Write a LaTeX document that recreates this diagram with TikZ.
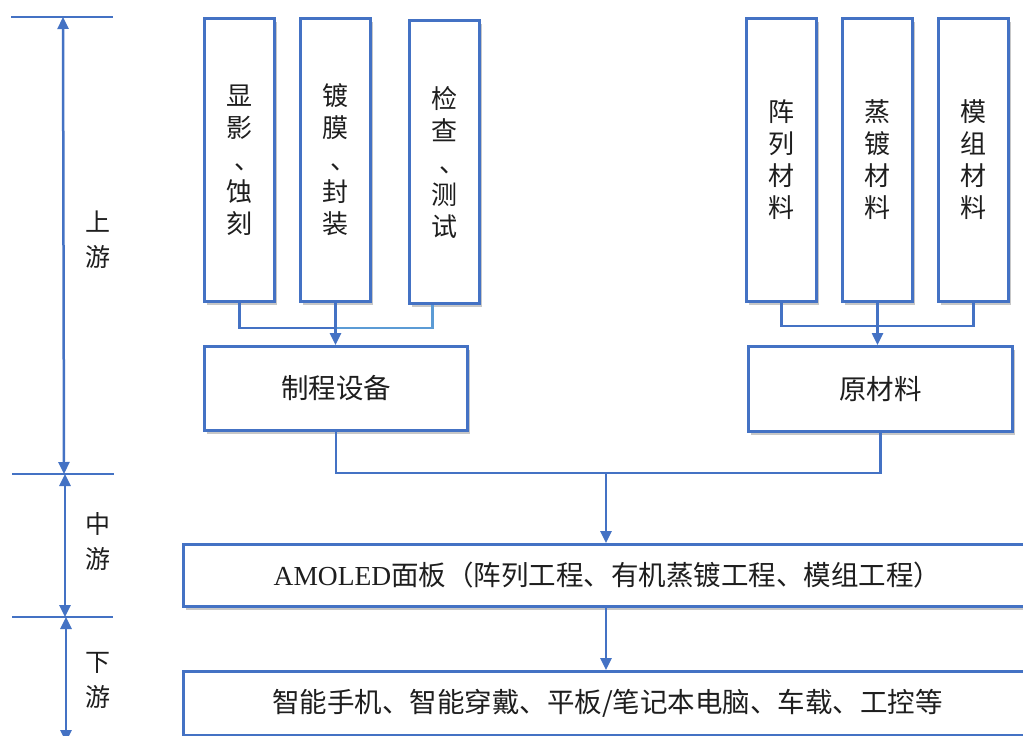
\documentclass[tikz,border=0pt]{standalone}
\usepackage{fontspec}
\setmainfont{Liberation Serif}
\newfontfamily\cjk{Noto Sans CJK SC}
\usetikzlibrary{arrows.meta,shadows,calc}
\definecolor{bl}{HTML}{4472C4}
\definecolor{lbl}{HTML}{5B9BD5}
\definecolor{tx}{HTML}{1E1E1E}
\newcommand{\vcomma}{\makebox[1em][l]{\kern0.3em、}}
\tikzset{
  box/.style={draw=bl, line width=3pt, fill=white, inner sep=0pt, anchor=north west,
    drop shadow={shadow xshift=2.5pt, shadow yshift=-3pt, fill=black, opacity=0.22},
    text=tx},
  vtext/.style={align=center, font=\cjk\fontsize{26}{32}\selectfont},
  htext/.style={font=\fontsize{27.5}{30}\selectfont},
  conn/.style={draw=bl, line width=2.5pt},
  connl/.style={draw=lbl, line width=2.5pt},
  tip/.style={-{Triangle[length=12pt,width=11pt]}},
  axis/.style={draw=bl, line width=2.6pt},
  dbl/.style={draw=bl, line width=2.5pt, {Triangle[length=12pt,width=11pt]}-{Triangle[length=12pt,width=11pt]}},
  lab/.style={align=center, text=tx, font=\cjk\fontsize{25}{35}\selectfont}
}
\begin{document}
\begin{tikzpicture}[x=1pt,y=-1pt]
\useasboundingbox[fill=white] (0,0) rectangle (1023,736);

% axis
\coordinate (t1l) at (11,17);  \coordinate (t1r) at (113,17);
\coordinate (t2l) at (12,474); \coordinate (t2r) at (114,474);
\coordinate (t3l) at (12,617); \coordinate (t3r) at (113,617);
\coordinate (a1) at (63,17);  \coordinate (a2) at (64,474);
\coordinate (a2b) at (65,474); \coordinate (a3) at (65,617);
\coordinate (a3b) at (66,617); \coordinate (a4) at (66,742);
\draw[axis] (t1l) -- (t1r);
\draw[axis] (t2l) -- (t2r);
\draw[axis] (t3l) -- (t3r);
\draw[dbl] (a1) -- (a2);
\draw[dbl] (a2b) -- (a3);
\draw[dbl] (a3b) -- (a4);
\node[lab] (up) at (98,240) {上\\游};
\node[lab] (mid) at (98,541) {中\\游};
\node[lab] (down) at (98,680) {下\\游};

% top boxes
\node[box, minimum width=70, minimum height=283, vtext] (b1) at (203,17) {显\\影\\\vcomma\\蚀\\刻};
\node[box, minimum width=70, minimum height=283, vtext] (b2) at (299,17) {镀\\膜\\\vcomma\\封\\装};
\node[box, minimum width=70, minimum height=283, vtext] (b3) at (408,19) {检\\查\\\vcomma\\测\\试};
\node[box, minimum width=70, minimum height=283, vtext] (b4) at (745,17) {阵\\列\\材\\料};
\node[box, minimum width=70, minimum height=283, vtext] (b5) at (841,17) {蒸\\镀\\材\\料};
\node[box, minimum width=70, minimum height=283, vtext] (b6) at (937,17) {模\\组\\材\\料};

\node[box, minimum width=263, minimum height=84, htext] (zc) at (203,345) {\cjk 制程设备};
\node[box, minimum width=264, minimum height=85, htext] (yl) at (747,345) {\cjk 原材料};

\node[box, minimum width=848, minimum height=62, htext] (am) at (182,543) {AMOLED{\cjk 面板（阵列工程、有机蒸镀工程、模组工程）}};
\node[box, minimum width=848, minimum height=64, htext] (sm) at (182,670) {\cjk 智能手机、智能穿戴、平板/笔记本电脑、车载、工控等};

% connectors left
\coordinate (jl) at (334,328);
\draw[conn] (b1.south) |- (jl);
\draw[connl] ($(b3.south)+(-12,0)$) |- (jl);
\draw[conn,tip] (b2.south) -- (b2.south |- zc.north);

% connectors right
\coordinate (jr) at (876,326);
\draw[conn] (b4.south) |- (jr);
\draw[conn] (b6.south) |- (jr);
\draw[conn,tip] (b5.south) -- (b5.south |- yl.north);

% middle
\coordinate (jm) at (606,473);
\draw[conn] (zc.south) |- (jm) -| (yl.south);
\draw[conn,tip] (jm) -- (jm |- am.north);
\coordinate (jb) at (606,605);
\draw[conn,tip] (jb) -- (jb |- sm.north);
\end{tikzpicture}
\end{document}
